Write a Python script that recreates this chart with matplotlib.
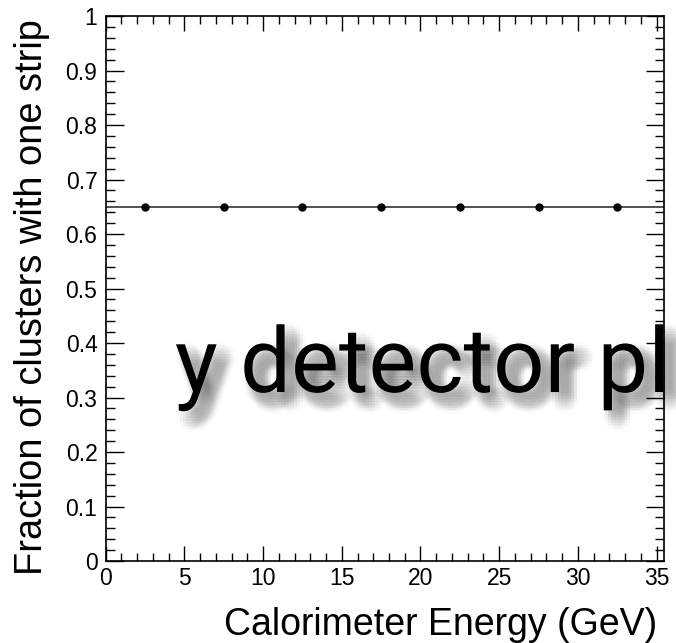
import numpy as np
import matplotlib
matplotlib.use("Agg")
import matplotlib.pyplot as plt
import matplotlib.patheffects as pe
from matplotlib.ticker import MultipleLocator

# bin centres (GeV) and fraction of single-strip clusters
energy = [2.5, 7.5, 12.5, 17.5, 22.5, 27.5, 32.5]
fraction = [0.65, 0.65, 0.65, 0.65, 0.65, 0.65, 0.65]
fit_value = 0.65

x_ticks = [0, 5, 10, 15, 20, 25, 30, 35]
y_ticks = [0, 0.1, 0.2, 0.3, 0.4, 0.5, 0.6, 0.7, 0.8, 0.9, 1]
y_ticklabels = ["0", "0.1", "0.2", "0.3", "0.4", "0.5", "0.6", "0.7", "0.8", "0.9", "1"]

plt.rcParams['font.family'] = ['Liberation Sans', 'DejaVu Sans']

fig = plt.figure(figsize=(6.76, 6.43), dpi=100)
ax = fig.add_axes([0.1564, 0.1275, 0.9822 - 0.1564, 0.9751 - 0.1275])

ax.axhline(fit_value, color='#222222', lw=1.1, zorder=2)
ax.plot(energy, fraction, 'o', color='black', ms=5, zorder=3)

ax.set_xlim(0, 35.47)
ax.set_ylim(0, 1)
ax.set_xticks(x_ticks)
ax.set_yticks(y_ticks)
ax.set_yticklabels(y_ticklabels)
ax.xaxis.set_minor_locator(MultipleLocator(1))
ax.yaxis.set_minor_locator(MultipleLocator(0.02))

for s in ax.spines.values():
    s.set_linewidth(1.2)

ax.tick_params(which='both', direction='in', top=True, right=True, width=1.0,
               labelsize=16.5, colors='black')
ax.tick_params(axis='x', which='major', length=10.5, pad=4)
ax.tick_params(axis='x', which='minor', length=5.5)
ax.tick_params(axis='y', which='major', length=13, pad=6)
ax.tick_params(axis='y', which='minor', length=6.5)

fig.text(657 / 676, 1 - 635 / 643, "Calorimeter Energy (GeV)", ha='right',
         va='baseline', fontsize=27)
fig.text(32 / 676, 1 - 19 / 643, "Fraction of clusters with one strip",
         rotation=90, ha='center', va='top', fontsize=27.4)

# overlay slide text with a soft drop shadow
shadow = []
for dx in range(-8, 9, 2):
    for dy in range(-8, 9, 2):
        if dx * dx + dy * dy <= 64:
            shadow.append(pe.SimplePatchShadow(offset=(7 + dx, -7 + dy),
                                               shadow_rgbFace='black', alpha=0.014))
shadow.append(pe.Normal())
fig.text(175 / 676, 1 - 392 / 643, "y detector pl", ha='left', va='baseline',
         fontsize=65, family=['Roboto', 'DejaVu Sans'], color='black',
         path_effects=shadow)

fig.savefig("out.png", dpi=100)
